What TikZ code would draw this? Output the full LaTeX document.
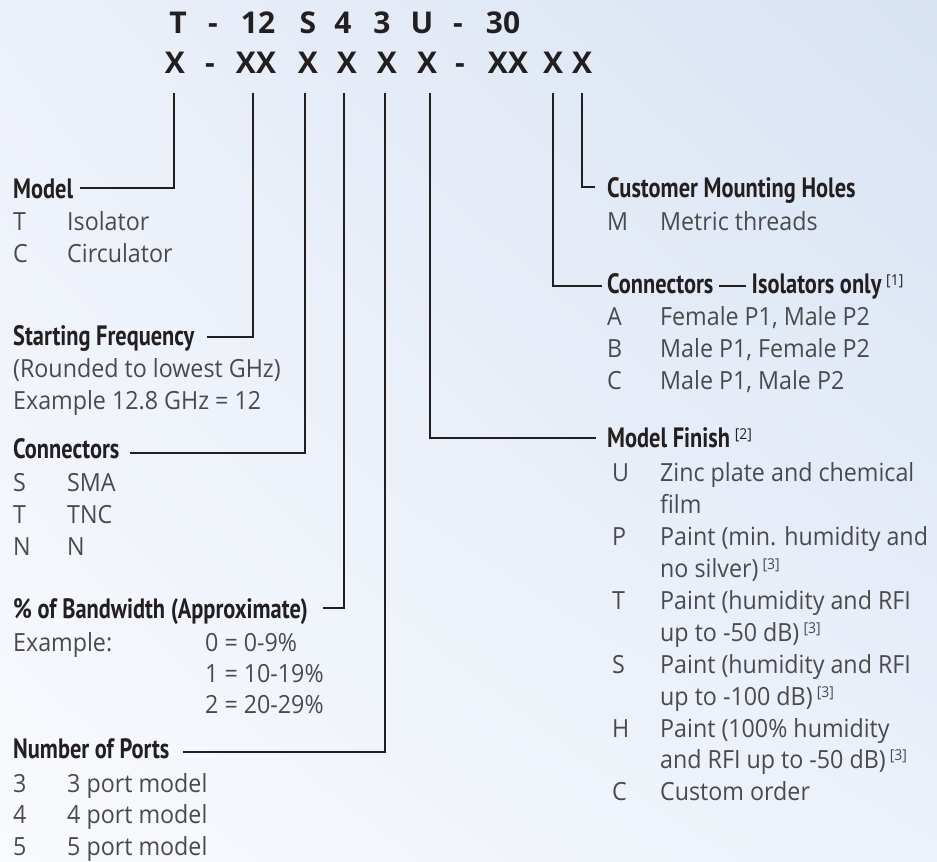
\documentclass[tikz,border=0pt]{standalone}
\usepackage{fontspec}
\usetikzlibrary{shadings}
\setmainfont{Open Sans}
\newfontfamily\bodyf[FakeStretch=0.93]{Open Sans}
\newfontfamily\headf[FakeStretch=0.8]{PT Sans}
\newfontfamily\codef{Open Sans}
\definecolor{ink}{HTML}{231F20}
\definecolor{txtgray}{HTML}{4A4A4C}
\definecolor{bgTL}{HTML}{ECF0F9}
\definecolor{bgTR}{HTML}{D8E3F3}
\definecolor{bgBL}{HTML}{F8FAFD}
\definecolor{bgBR}{HTML}{ECF1FA}
\tikzset{
  conn/.style={draw=ink, line width=2.7pt},
  code/.style={font=\codef\bfseries\fontsize{30}{30}\selectfont, text=ink, anchor=base, inner sep=0pt},
  head/.style={font=\headf\bfseries\fontsize{28}{28}\selectfont, text=ink, anchor=base west, inner sep=0pt},
  body/.style={font=\bodyf\fontsize{25}{25}\selectfont, text=txtgray, anchor=base west, inner sep=0pt},
}
\newcommand{\fnmark}[1]{\,{\bodyf\mdseries\fontsize{15}{15}\selectfont\raisebox{8pt}{[#1]}}}
\newcommand{\longdash}{\raisebox{6.5pt}{\rule{27pt}{1.5pt}}}
\begin{document}
\begin{tikzpicture}[x=1pt,y=-1pt]
\useasboundingbox (0,0) rectangle (937,862);
\shade[upper left=bgTL, upper right=bgTR, lower left=bgBL, lower right=bgBR] (0,0) rectangle (937,862);

% code line 1
\node[code] (c1) at (178,33) {T};
\node[code] (c2) at (213,33) {-};
\node[code] (c3) at (258,33) {12};
\node[code] (c4) at (308,33) {S};
\node[code] (c5) at (343,33) {4};
\node[code] (c6) at (382,33) {3};
\node[code] (c7) at (422,33) {U};
\node[code] (c8) at (458,33) {-};
\node[code] (c9) at (503,33) {30};
% code line 2
\node[code] (x1) at (175,73) {X};
\node[code] (x2) at (210,73) {-};
\node[code] (x3) at (256,73) {XX};
\node[code] (x4) at (308,73) {X};
\node[code] (x5) at (347,73) {X};
\node[code] (x6) at (387,73) {X};
\node[code] (x7) at (427,73) {X};
\node[code] (x8) at (460,73) {-};
\node[code] (x9) at (508,73) {XX};
\node[code] (x10) at (553,73) {X};
\node[code] (x11) at (582,73) {X};

% left column
\node[head] (model) at (13,198) {Model};
\node[body] (mT) at (13,230) {T};
\node[body] (mTd) at (67,230) {Isolator};
\node[body] (mC) at (13,262) {C};
\node[body] (mCd) at (67,262) {Circulator};

\node[head] (freq) at (13,345) {Starting Frequency};
\node[body] (freq1) at (13,377) {(Rounded to lowest GHz)};
\node[body] (freq2) at (13,409) {Example 12.8 GHz = 12};

\node[head] (conn) at (13,458) {Connectors};
\node[body] (cS) at (13,491) {S};
\node[body] (cSd) at (67,491) {SMA};
\node[body] (cT) at (13,523) {T};
\node[body] (cTd) at (67,523) {TNC};
\node[body] (cN) at (13,555) {N};
\node[body] (cNd) at (67,555) {N};

\node[head] (bw) at (13,618) {\% of Bandwidth (Approximate)};
\node[body] (bwE) at (13,651) {Example:};
\node[body] (bw0) at (205,651) {0 = 0-9\%};
\node[body] (bw1) at (205,682) {1 = 10-19\%};
\node[body] (bw2) at (205,713) {2 = 20-29\%};

\node[head] (ports) at (13,758) {Number of Ports};
\node[body] (p3) at (13,792) {3};
\node[body] (p3d) at (67,792) {3 port model};
\node[body] (p4) at (13,823) {4};
\node[body] (p4d) at (67,823) {4 port model};
\node[body] (p5) at (13,855) {5};
\node[body] (p5d) at (67,855) {5 port model};

% right column
\node[head] (holes) at (607,197) {Customer Mounting Holes};
\node[body] (hM) at (607,230) {M};
\node[body] (hMd) at (660,230) {Metric threads};

\node[head] (iso) at (607,293) {Connectors \longdash{} Isolators only\fnmark{1}};
\node[body] (iA) at (607,325) {A};
\node[body] (iAd) at (660,325) {Female P1, Male P2};
\node[body] (iB) at (607,357) {B};
\node[body] (iBd) at (660,357) {Male P1, Female P2};
\node[body] (iC) at (607,389) {C};
\node[body] (iCd) at (660,389) {Male P1, Male P2};

\node[head] (fin) at (607,447) {Model Finish\fnmark{2}};
\node[body] (fU) at (612,481) {U};
\node[body] (fUd) at (660,481) {Zinc plate and chemical};
\node[body] (fUd2) at (660,513) {film};
\node[body] (fP) at (612,545) {P};
\node[body] (fPd) at (660,545) {Paint (min. humidity and};
\node[body] (fPd2) at (660,577) {no silver)\fnmark{3}};
\node[body] (fT) at (612,609) {T};
\node[body] (fTd) at (660,609) {Paint (humidity and RFI};
\node[body] (fTd2) at (660,641) {up to -50 dB)\fnmark{3}};
\node[body] (fS) at (612,673) {S};
\node[body] (fSd) at (660,673) {Paint (humidity and RFI};
\node[body] (fSd2) at (660,705) {up to -100 dB)\fnmark{3}};
\node[body] (fH) at (612,737) {H};
\node[body] (fHd) at (660,737) {Paint (100\% humidity};
\node[body] (fHd2) at (660,768) {and RFI up to -50 dB)\fnmark{3}};
\node[body] (fC) at (612,800) {C};
\node[body] (fCd) at (660,800) {Custom order};

% connector ends
\coordinate (t1) at (174,93);  \coordinate (e1) at (80,188);
\coordinate (t2) at (253,93);  \coordinate (e2) at (207,337);
\coordinate (t3) at (305,93);  \coordinate (e3) at (130,453);
\coordinate (t4) at (344,93);  \coordinate (e4) at (323,608);
\coordinate (t5) at (385,93);  \coordinate (e5) at (183,752);
\coordinate (t6) at (430,93);  \coordinate (e6) at (596,438);
\coordinate (t7) at (553,93);  \coordinate (e7) at (602,286);
\coordinate (t8) at (582,93);  \coordinate (e8) at (595,187);

\draw[conn] (t1) |- (e1);
\draw[conn] (t2) |- (e2);
\draw[conn] (t3) |- (e3);
\draw[conn] (t4) |- (e4);
\draw[conn] (t5) |- (e5);
\draw[conn] (t6) |- (e6);
\draw[conn] (t7) |- (e7);
\draw[conn] (t8) |- (e8);
\end{tikzpicture}
\end{document}
